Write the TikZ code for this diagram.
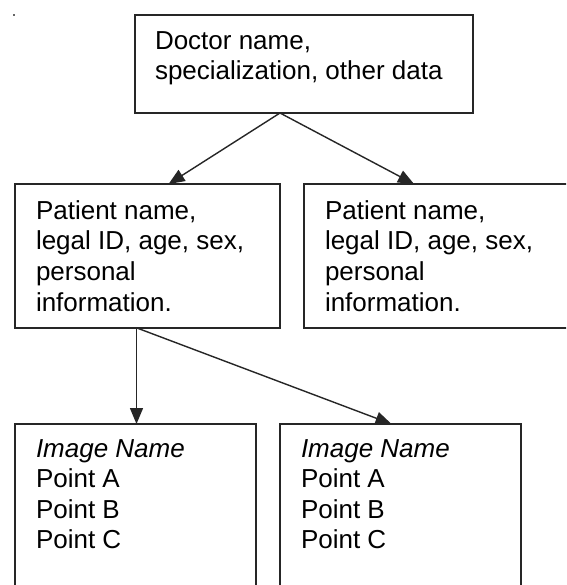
\documentclass[tikz,border=0pt]{standalone}
\usepackage{fontspec}
\setmainfont{Liberation Sans}
\usetikzlibrary{arrows.meta}
\tikzset{
  box/.style={draw=black!85, line width=1.8pt, rectangle, inner sep=0pt, outer sep=0pt, anchor=north west},
  txt/.style={inner sep=0pt, outer sep=0pt, anchor=base west},
  arr/.style={draw=black!85, line width=1.4pt, -{Triangle[length=16pt,width=13pt]}}
}
\begin{document}
\begin{tikzpicture}[x=1pt,y=-1pt]
\clip (0,0) rectangle (566,585);
\fill[white] (0,0) rectangle (566,585);
\fill[black!60] (13,14) rectangle (15,16);
% boxes
\node[box, minimum width=338pt, minimum height=98pt] (doc) at (135,15) {};
\node[box, minimum width=265pt, minimum height=144pt] (patL) at (15,184) {};
\node[box, minimum width=290pt, minimum height=144pt] (patR) at (304,184) {};
\node[box, minimum width=241pt, minimum height=190pt] (imgL) at (15,424) {};
\node[box, minimum width=241pt, minimum height=190pt] (imgR) at (280,424) {};
% texts
\node[txt] (docT) at (155,50) {\fontsize{26}{30}\selectfont\begin{tabular}[t]{@{}l@{}}Doctor name,\\specialization, other data\end{tabular}};
\node[txt] (patLT) at (36,219) {\fontsize{26}{30.7}\selectfont\begin{tabular}[t]{@{}l@{}}Patient name,\\legal ID, age, sex,\\personal\\information.\end{tabular}};
\node[txt] (patRT) at (325,219) {\fontsize{26}{30.7}\selectfont\begin{tabular}[t]{@{}l@{}}Patient name,\\legal ID, age, sex,\\personal\\information.\end{tabular}};
\node[txt] (imgLT) at (36,457) {\fontsize{26}{30.5}\selectfont\begin{tabular}[t]{@{}l@{}}\itshape Image Name\\Point A\\Point B\\Point C\end{tabular}};
\node[txt] (imgRT) at (301,457) {\fontsize{26}{30.5}\selectfont\begin{tabular}[t]{@{}l@{}}\itshape Image Name\\Point A\\Point B\\Point C\end{tabular}};
% connectors
\draw[arr] ([xshift=145pt]doc.south west) -- ([xshift=153.6pt]patL.north west);
\draw[arr] ([xshift=145pt]doc.south west) -- ([xshift=110pt]patR.north west);
\draw[arr] ([xshift=121.5pt]patL.south west) -- ([xshift=121.5pt]imgL.north west);
\draw[arr] ([xshift=122pt]patL.south west) -- ([xshift=111.5pt]imgR.north west);
\end{tikzpicture}
\end{document}
